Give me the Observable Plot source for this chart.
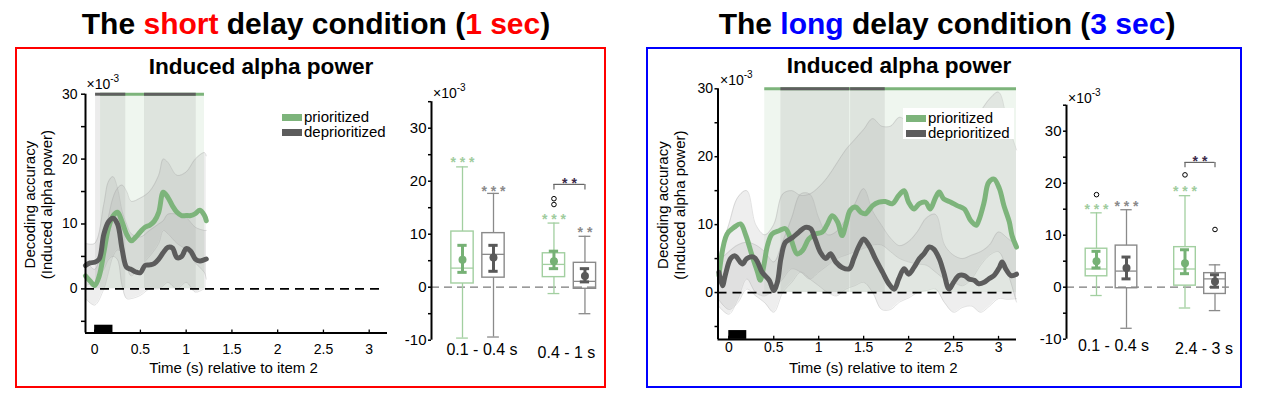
<!DOCTYPE html>
<html><head><meta charset="utf-8">
<script src="https://cdn.jsdelivr.net/npm/d3@7"></script>
<script src="https://cdn.jsdelivr.net/npm/@observablehq/plot@0.6"></script>
<style>
body{margin:0;background:#fff;font-family:"Liberation Sans",Arial,sans-serif;}
#root{position:relative;width:1262px;height:395px;overflow:hidden;background:#fff;}
.abs{position:absolute;white-space:nowrap;}
</style></head><body><div id="root"></div>
<script>
// ---------------- DATA ----------------
const seriesNames = ["prioritized", "deprioritized"];
const timeTicks = [0, 0.5, 1, 1.5, 2, 2.5, 3];
const accTicks = [-5, 0, 5, 10, 15, 20, 25, 30];
const boxTicks = [-10, -5, 0, 5, 10, 15, 20, 25, 30, 35];
const stimulusWindow = [[0, 0.2]];

// short delay — time courses (x10^-3)
const shortT = [-0.1,-0.05,0,0.05,0.1,0.15,0.2,0.25,0.3,0.35,0.4,0.45,0.5,0.55,0.6,0.65,0.7,0.75,0.8,0.85,0.9,0.95,1.0,1.05,1.1,1.15,1.2,1.22];
const shortPrior = [2.0,1.2,0.5,2.0,5.6,9.3,11.2,11.8,10.3,8.4,7.4,8.0,8.8,9.5,9.8,10.4,11.8,14.9,14.1,12.8,11.8,11.3,11.3,11.3,11.6,12.1,11.3,10.5];
const shortDeprior = [3.6,4.0,4.1,4.6,8.4,10.3,10.9,10.0,6.1,3.3,3.0,2.6,2.5,3.6,3.7,3.9,4.6,5.6,6.4,6.3,4.8,5.0,6.2,5.8,4.6,4.3,4.5,4.6];
const shortBandT = [-0.1,0,0.1,0.15,0.2,0.25,0.3,0.35,0.4,0.5,0.6,0.7,0.75,0.8,0.9,1.0,1.1,1.2,1.22];
const shortPriorHi = [4.5,3,8,11,14,15.5,16,15,13.5,14,15,17.5,20,19.5,17.5,18,20,21,20.5];
const shortPriorLo = [-1.5,-2.5,0,2.5,5,6,5.5,3.5,2,3.5,5,7,9,8.5,7,6,4,2.5,1.5];
const shortDepriorHi = [7,7,13,16.5,17.3,15.5,12,10,8.5,8,9,10,10.5,11.5,11.5,11,9.5,9,9];
const shortDepriorLo = [0.5,1.2,3,4.5,5,4.5,0.5,-1.5,-1.5,-1,0,0,0.5,1,0,1,-0.5,0,0];
const shortSigPrior = [[0.065, 1.2]];
const shortSigDeprior = [[0.01, 0.34], [0.545, 1.11]];

// long delay — time courses (x10^-3)
const longPriorT = [-0.11,-0.02,0.06,0.13,0.19,0.26,0.32,0.35,0.39,0.43,0.48,0.56,0.63,0.69,0.76,0.82,0.89,0.96,1.04,1.09,1.15,1.21,1.26,1.30,1.35,1.41,1.47,1.52,1.60,1.67,1.74,1.82,1.89,1.95,2.00,2.06,2.12,2.19,2.24,2.30,2.34,2.39,2.47,2.54,2.62,2.69,2.75,2.78,2.84,2.89,2.95,3.01,3.06,3.12,3.15,3.20];
const longPrior = [2.5,8.6,9.6,10.1,8.4,5.4,3.0,1.8,4.0,6.9,8.6,9.1,9.4,7.9,5.7,6.2,7.9,8.6,8.9,9.9,11.3,10.4,8.4,9.9,12.1,12.6,11.8,11.6,12.8,13.3,13.4,13.1,14.3,15.0,13.3,12.3,13.1,13.3,12.3,14.0,14.8,13.8,13.3,12.8,12.3,10.6,9.9,10.6,13.3,16.2,16.7,15.3,12.8,10.4,8.4,6.7];
const longDepriorT = [-0.11,-0.07,-0.04,0.02,0.07,0.15,0.20,0.28,0.32,0.37,0.45,0.50,0.54,0.58,0.63,0.71,0.78,0.85,0.91,0.96,1.02,1.08,1.13,1.19,1.26,1.34,1.39,1.45,1.50,1.56,1.63,1.71,1.78,1.84,1.89,1.95,2.00,2.06,2.12,2.17,2.23,2.28,2.34,2.39,2.45,2.50,2.56,2.62,2.67,2.73,2.78,2.84,2.89,2.95,3.01,3.04,3.08,3.14,3.20];
const longDeprior = [3.0,1.0,2.5,5.0,5.4,4.2,5.0,5.2,4.5,3.0,1.8,0.3,1.5,5.0,7.4,8.1,8.9,9.6,9.4,7.9,5.9,5.0,5.7,4.5,3.7,3.5,5.0,6.9,7.9,6.9,5.0,3.0,1.3,0.5,2.0,3.5,2.7,3.7,5.0,5.7,6.7,6.4,5.0,3.0,0.5,1.5,2.5,2.5,2.0,1.8,1.3,1.5,2.0,2.5,3.7,4.5,3.5,2.5,2.7];
const longBandT = [-0.12,0,0.1,0.2,0.3,0.4,0.5,0.6,0.7,0.8,0.9,1.0,1.1,1.2,1.3,1.4,1.5,1.6,1.7,1.8,1.9,2.0,2.1,2.2,2.3,2.4,2.5,2.6,2.7,2.8,2.9,3.0,3.1,3.2];
const longPriorHi = [5,10,14,15,10,8.5,10,14.5,15,14.3,14.5,15.5,17,19,21,22.5,24,25.6,24.5,24.5,25.8,25,24.5,25,26,26.5,26,25.5,26,26.8,28.5,29.5,25,21];
const longPriorLo = [-1.9,-3.2,-1,2,0,-0.5,0.5,2,3.5,3,2,3,4,5,5.5,6,6.5,7,7,6,5,4.5,4.2,4,3,2,1.5,1,2,4,5.5,6,3,-1.4];
const longDepriorHi = [4.5,6,7,7.4,7,6,4.5,7.5,11,14.5,14.5,11,8.5,9,10.8,13,15.3,12,9.9,8,6.9,7.5,9,11,11.5,7,5.5,5,5.5,6,7,8.9,8,6.9];
const longDepriorLo = [-0.9,-2.5,-1.5,0.5,-0.5,-1.5,-2.9,0,1.5,3,2,1,0,-0.5,0.5,1,1.5,0,-2.5,-2.5,-1.4,-0.8,0,0.3,0.5,-1.5,-2.9,-2.2,-2,-2.9,-2,-0.9,-1,-0.9];
const longSigPrior = [[0.4, 3.2]];
const longSigDeprior = [[0.58, 1.345], [1.355, 1.74]];

// box plots: order = [win1 prior, win1 deprior, win2 prior, win2 deprior]
const shortGroups = ["0.1 - 0.4 s", "0.4 - 1 s"];
const shortBoxQ1 = [0.7, 1.8, 1.9, -0.3];
const shortBoxMed = [3.6, 6.2, 4.3, 1.1];
const shortBoxQ3 = [10.5, 10.2, 6.4, 4.6];
const shortWhiskLo = [-9.6, -9.4, -1.2, -5.0];
const shortWhiskHi = [22.7, 17.7, 12.1, 9.6];
const shortMean = [5.2, 5.6, 4.9, 2.1];
const shortMeanLo = [2.8, 3.0, 3.5, 1.0];
const shortMeanHi = [7.9, 7.9, 6.8, 3.5];
const shortOutliers = [[2, 15.6], [2, 16.7]];
const shortStars = ["***", "***", "***", "**"];
const shortStarY = [24.2, 18.9, 13.5, 11.0];
const shortBracket = [[2, 3, 19.4, "**"]];

const longGroups = ["0.1 - 0.4 s", "2.4 - 3 s"];
const longBoxQ1 = [2.1, -0.2, 0.3, -1.3];
const longBoxMed = [3.5, 3.1, 3.5, 1.6];
const longBoxQ3 = [7.4, 8.0, 7.7, 2.7];
const longWhiskLo = [-1.6, -7.9, -4.0, -4.5];
const longWhiskHi = [14.3, 14.9, 17.6, 4.3];
const longMean = [5.0, 3.7, 4.6, 1.1];
const longMeanLo = [3.7, 1.6, 2.6, 0.0];
const longMeanHi = [6.9, 5.8, 7.2, 2.4];
const longOutliers = [[0, 17.8], [2, 21.6], [3, 11.1]];
const longStars = ["***", "***", "***", ""];
const longStarY = [15.8, 16.3, 19.2, 0];
const longBracket = [[2, 3, 24.0, "**"]];

// ---------------- STYLE / LAYOUT ----------------
const FONT = '"Liberation Sans", Arial, Helvetica, sans-serif';
const GREEN = "#7db47b";
const DARK = "#5c5c5c";
const BOX_STROKE = ["#a2cfa0", "#8a8a8a"];
const MEAN_COL = ["#76b175", "#595959"];
const STAR_COL = ["#9fcc9d", "#8a8a8a"];
const root = document.getElementById("root");

function div(html, css) {
  const d = document.createElement("div");
  d.className = "abs";
  d.innerHTML = html;
  Object.assign(d.style, css);
  root.appendChild(d);
  return d;
}
// text placed by its baseline
function label(html, x, baseline, fs, extra = {}, center = false) {
  const lh = Math.round(fs * 0.85);
  return div(html, Object.assign({
    left: x + "px", top: (baseline - (0.5 * (lh - 1.117 * fs) + 0.905 * fs)) + "px",
    fontSize: fs + "px", lineHeight: lh + "px", fontFamily: FONT,
    transform: center ? "translateX(-50%)" : "none"
  }, extra));
}
function place(svg, left, top) {
  svg.style.position = "absolute";
  svg.style.left = left + "px";
  svg.style.top = top + "px";
  root.appendChild(svg);
}

// panel frames
div("", {left: "15px", top: "47px", width: "591px", height: "341px", border: "2px solid #ff0000", boxSizing: "border-box"});
div("", {left: "646px", top: "47px", width: "596px", height: "341px", border: "2px solid #0000ff", boxSizing: "border-box"});

// big titles
label('The <span style="color:#ff0000">short</span> delay condition (<span style="color:#ff0000">1 sec</span>)', 316, 34.3, 30, {fontWeight: "bold"}, true);
label('The <span style="color:#0000ff">long</span> delay condition (<span style="color:#0000ff">3 sec</span>)', 947, 34.3, 30, {fontWeight: "bold"}, true);
label("Induced alpha power", 261, 74, 22.6, {fontWeight: "bold"}, true);
label("Induced alpha power", 899, 73, 22.6, {fontWeight: "bold"}, true);

function lineChart(c) {
  const prPts = c.prT.map((t, i) => ({t, v: c.pr[i]}));
  const dpPts = c.dpT.map((t, i) => ({t, v: c.dp[i]}));
  const bi = d3.range(c.bandT.length);
  const y0 = c.yDomain[0];
  const band = (lo, hi) => [
    Plot.areaY(bi, {x: i => c.bandT[i], y1: i => lo[i], y2: i => hi[i], curve: "catmull-rom", fill: "#a8a8a8", fillOpacity: 0.2}),
    Plot.line(bi, {x: i => c.bandT[i], y: i => hi[i], curve: "catmull-rom", stroke: "#999", strokeOpacity: 0.35, strokeWidth: 0.8}),
    Plot.line(bi, {x: i => c.bandT[i], y: i => lo[i], curve: "catmull-rom", stroke: "#999", strokeOpacity: 0.35, strokeWidth: 0.8})
  ];
  const svg = Plot.plot({
    width: c.width, height: c.height,
    marginLeft: c.mL, marginRight: c.mR, marginTop: c.mT, marginBottom: c.mB,
    x: {domain: c.xDomain, axis: null, label: null},
    y: {domain: c.yDomain, axis: null, label: null},
    style: {fontFamily: FONT, fontSize: "14px", color: "black", background: "transparent", overflow: "visible"},
    marks: [
      Plot.rect(c.sigPr, {x1: d => d[0], x2: d => d[1], y1: () => 0, y2: () => 30, fill: GREEN, fillOpacity: 0.12}),
      Plot.rect(c.sigDp, {x1: d => d[0], x2: d => d[1], y1: () => 0, y2: () => 30, fill: "#666", fillOpacity: 0.12}),
      ...band(c.prLo, c.prHi),
      ...band(c.dpLo, c.dpHi),
      Plot.ruleY([0], {x1: () => c.xDomain[0], x2: () => c.dashEnd, stroke: "black", strokeWidth: 1.7, strokeDasharray: "9,6"}),
      Plot.line(prPts, {x: "t", y: "v", curve: "catmull-rom", stroke: GREEN, strokeWidth: 5, strokeLinejoin: "round", strokeLinecap: "round"}),
      Plot.line(dpPts, {x: "t", y: "v", curve: "catmull-rom", stroke: DARK, strokeWidth: 5, strokeLinejoin: "round", strokeLinecap: "round"}),
      Plot.ruleY(c.sigPr, {x1: d => d[0], x2: d => d[1], y: () => 30, stroke: GREEN, strokeWidth: 3}),
      Plot.ruleY(c.sigDp, {x1: d => d[0], x2: d => d[1], y: () => 30, stroke: "#5f5f5f", strokeWidth: 3}),
      Plot.rect(stimulusWindow, {x1: d => d[0], x2: d => d[1], y1: () => y0, y2: () => -5.6, fill: "black"}),
      Plot.ruleX([c.xDomain[0]], {y1: () => y0, y2: () => 30, stroke: "black", strokeWidth: 2}),
      Plot.ruleY([y0], {x1: () => c.xDomain[0], x2: () => c.xDomain[1], stroke: "black", strokeWidth: 2}),
      Plot.ruleX(timeTicks, {y1: () => y0, y2: () => y0 + 0.45, stroke: "black", strokeWidth: 1.3}),
      Plot.axisY({ticks: accTicks, tickFormat: d => d % 10 === 0 ? String(d) : "", tickSize: c.yTickSize, tickPadding: c.yTickPad, fontSize: 14, strokeWidth: 1.5, label: null}),
      Plot.axisX({ticks: timeTicks, tickFormat: d => String(d), tickSize: 0, tickPadding: c.xTickPad, fontSize: 14, label: null}),
      Plot.text(["Decoding accuracy"], {text: d => d, frameAnchor: "left", textAnchor: "middle", lineAnchor: "middle", rotate: -90, dx: c.yLab1Dx, dy: c.yLabDy, fontSize: 15}),
      Plot.text(["(Induced alpha power)"], {text: d => d, frameAnchor: "left", textAnchor: "middle", lineAnchor: "middle", rotate: -90, dx: c.yLab2Dx, dy: c.yLabDy, fontSize: 15}),
      Plot.text(["Time (s) relative to item 2"], {text: d => d, frameAnchor: "bottom", textAnchor: "middle", lineAnchor: "middle", dx: c.xLabDx, dy: c.xLabDy, fontSize: 15})
    ]
  });
  place(svg, c.left, c.top);
}

function boxChart(c) {
  const pos = i => 1 + (i % 2) + Math.floor(i / 2) * 2.95;
  const marks = [
    Plot.ruleY([0], {x1: () => 0, x2: () => c.dashEnd, stroke: "#7a7a7a", strokeWidth: 1.3, strokeDasharray: "8,5"})
  ];
  [0, 1].forEach(s => {
    const idx = [s, s + 2];
    const col = BOX_STROKE[s], mc = MEAN_COL[s];
    marks.push(
      Plot.ruleX(idx, {x: pos, y1: i => c.q3[i], y2: i => c.wHi[i], stroke: col, strokeWidth: 1.3}),
      Plot.ruleX(idx, {x: pos, y1: i => c.q1[i], y2: i => c.wLo[i], stroke: col, strokeWidth: 1.3}),
      Plot.ruleY(idx, {y: i => c.wHi[i], x1: i => pos(i) - 0.19, x2: i => pos(i) + 0.19, stroke: col, strokeWidth: 1.3}),
      Plot.ruleY(idx, {y: i => c.wLo[i], x1: i => pos(i) - 0.19, x2: i => pos(i) + 0.19, stroke: col, strokeWidth: 1.3}),
      Plot.rect(idx, {x1: i => pos(i) - 0.36, x2: i => pos(i) + 0.36, y1: i => c.q1[i], y2: i => c.q3[i], fill: "none", stroke: col, strokeWidth: 1.4}),
      Plot.ruleY(idx, {y: i => c.med[i], x1: i => pos(i) - 0.36, x2: i => pos(i) + 0.36, stroke: col, strokeWidth: 1.3}),
      Plot.ruleX(idx, {x: pos, y1: i => c.mLo[i], y2: i => c.mHi[i], stroke: mc, strokeWidth: 3}),
      Plot.ruleY(idx, {y: i => c.mLo[i], x1: i => pos(i) - 0.15, x2: i => pos(i) + 0.15, stroke: mc, strokeWidth: 3}),
      Plot.ruleY(idx, {y: i => c.mHi[i], x1: i => pos(i) - 0.15, x2: i => pos(i) + 0.15, stroke: mc, strokeWidth: 3}),
      Plot.dot(idx, {x: pos, y: i => c.mean[i], r: 4, fill: mc}),
      Plot.text(idx.filter(i => c.stars[i]), {x: pos, y: i => c.starY[i], text: i => c.stars[i].split("").join(" "), fill: STAR_COL[s], fontSize: 14, fontWeight: "bold", dy: 4})
    );
  });
  marks.push(
    Plot.dot(c.outliers, {x: d => pos(d[0]), y: d => d[1], r: 2.3, stroke: "black", fill: "white", strokeWidth: 1}),
    Plot.ruleY(c.bracket, {y: d => d[2], x1: d => pos(d[0]), x2: d => pos(d[1]), stroke: "#666", strokeWidth: 1.2}),
    Plot.ruleX(c.bracket, {x: d => pos(d[0]), y1: d => d[2], y2: d => d[2] - 1.05, stroke: "#666", strokeWidth: 1.2}),
    Plot.ruleX(c.bracket, {x: d => pos(d[1]), y1: d => d[2], y2: d => d[2] - 1.05, stroke: "#666", strokeWidth: 1.2}),
    Plot.text(c.bracket, {x: d => (pos(d[0]) + pos(d[1])) / 2, y: d => d[2], text: d => d[3].split("").join(" "), fill: "#3c2a4a", fontSize: 14, fontWeight: "bold", dy: -1}),
    Plot.ruleX([0], {y1: () => -10, y2: () => 35, stroke: "black", strokeWidth: 2}),
    Plot.axisY({ticks: boxTicks, tickFormat: d => d % 10 === 0 ? String(d) : "", tickSize: 3, tickPadding: 2, fontSize: 15, strokeWidth: 1.5, label: null}),
    Plot.text([c.groups[0]], {x: () => 1.5, y: () => -10, text: d => d, dx: c.lab0Dx, dy: c.lab0Dy, fontSize: 16}),
    Plot.text([c.groups[1]], {x: () => 1.5 + 2.95, y: () => -10, text: d => d, dx: c.lab1Dx, dy: c.lab1Dy, fontSize: 16})
  );
  const svg = Plot.plot({
    width: c.width, height: c.height,
    marginLeft: c.mL, marginRight: c.mR, marginTop: c.mT, marginBottom: c.mB,
    x: {domain: [0, 5.5], axis: null, label: null},
    y: {domain: [-10, 35], axis: null, label: null},
    style: {fontFamily: FONT, fontSize: "14px", color: "black", background: "transparent", overflow: "visible"},
    marks
  });
  place(svg, c.left, c.top);
}

// short delay line chart
lineChart({
  left: 15, top: 47, width: 380, height: 342, mL: 70, mR: 8, mT: 46.7, mB: 56.5,
  xDomain: [-0.1, 3.2], yDomain: [-6.8, 30],
  prT: shortT, pr: shortPrior, dpT: shortT, dp: shortDeprior,
  bandT: shortBandT, prLo: shortPriorLo, prHi: shortPriorHi, dpLo: shortDepriorLo, dpHi: shortDepriorHi,
  sigPr: shortSigPrior, sigDp: shortSigDeprior, dashEnd: 3.13,
  yTickSize: 4, yTickPad: 4, xTickPad: 11,
  yLab1Dx: -55, yLab2Dx: -38.5, yLabDy: -9, xLabDx: -3, xLabDy: 35
});
// long delay line chart
lineChart({
  left: 645, top: 47, width: 385, height: 342, mL: 72.5, mR: 14, mT: 41.3, mB: 50.1,
  xDomain: [-0.12, 3.2], yDomain: [-6.9, 30],
  prT: longPriorT, pr: longPrior, dpT: longDepriorT, dp: longDeprior,
  bandT: longBandT, prLo: longPriorLo, prHi: longPriorHi, dpLo: longDepriorLo, dpHi: longDepriorHi,
  sigPr: longSigPrior, sigDp: longSigDeprior, dashEnd: 3.2,
  yTickSize: 3, yTickPad: 2, xTickPad: 3,
  yLab1Dx: -54.5, yLab2Dx: -37.5, yLabDy: -9, xLabDx: 6, xLabDy: 29
});
// box plots
boxChart({
  left: 395, top: 47, width: 215, height: 342, mL: 36, mR: 8.5, mT: 54.2, mB: 49.3,
  groups: shortGroups, q1: shortBoxQ1, med: shortBoxMed, q3: shortBoxQ3, wLo: shortWhiskLo, wHi: shortWhiskHi,
  mean: shortMean, mLo: shortMeanLo, mHi: shortMeanHi, outliers: shortOutliers,
  stars: shortStars, starY: shortStarY, bracket: shortBracket, dashEnd: 5.4,
  lab0Dx: 4, lab0Dy: 10, lab1Dx: -3, lab1Dy: 13
});
boxChart({
  left: 1030, top: 47, width: 215, height: 342, mL: 36, mR: 14, mT: 57.7, mB: 50.3,
  groups: longGroups, q1: longBoxQ1, med: longBoxMed, q3: longBoxQ3, wLo: longWhiskLo, wHi: longWhiskHi,
  mean: longMean, mLo: longMeanLo, mHi: longMeanHi, outliers: longOutliers,
  stars: longStars, starY: longStarY, bracket: longBracket, dashEnd: 5.43,
  lab0Dx: 2, lab0Dy: 7, lab1Dx: 4, lab1Dy: 9.5
});

// x10^-3 scale labels
const times = '×10<span style="font-size:10px;position:relative;top:-7px;">-3</span>';
label(times, 86.5, 89.3, 14);
label(times, 720, 85, 14);
label(times, 433, 98, 14);
label(times, 1068, 103, 14);

// legends
function legend(x, y1, y2, bg) {
  if (bg) div("", {left: (x - 3) + "px", top: (y1 - 10) + "px", width: "111px", height: "31px", background: "#fff"});
  [[y1, GREEN], [y2, DARK]].forEach(([y, col], k) => {
    div("", {left: x + "px", top: (y - 3.5) + "px", width: "20px", height: "7px", background: col});
    label(seriesNames[k], x + 22.5, y + 4.6, 15);
  });
}
legend(281.5, 117, 132, false);
legend(905.5, 118.3, 133.3, true);
</script></body></html>
